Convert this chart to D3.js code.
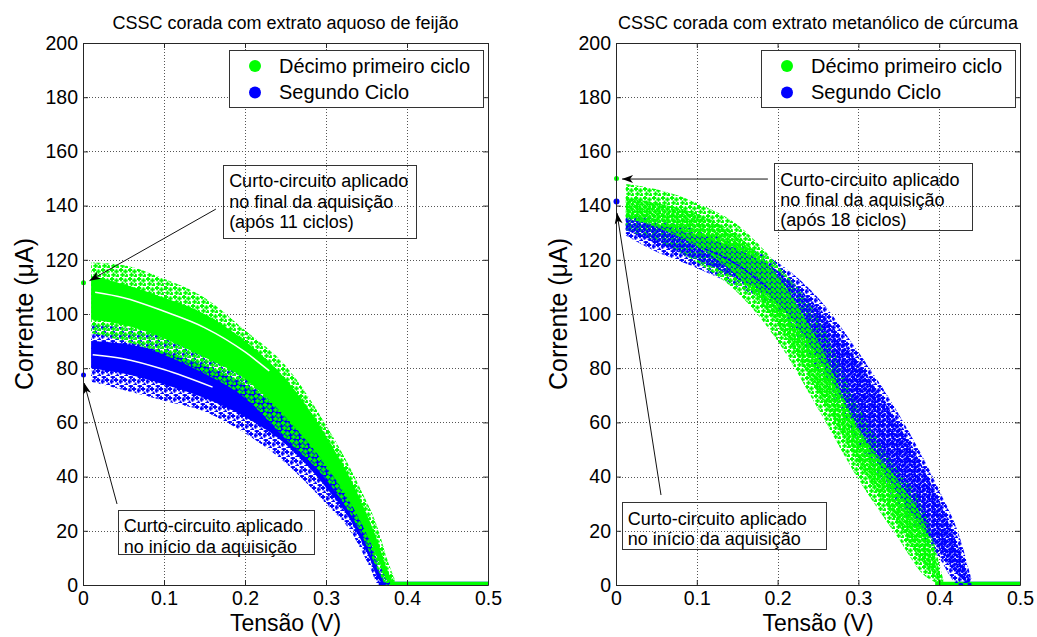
<!DOCTYPE html>
<html>
<head>
<meta charset="utf-8">
<script src="https://cdn.jsdelivr.net/npm/d3@7"></script>
<style>
  body { margin: 0; background: #fff; }
  svg { display: block; font-family: "Liberation Sans", Arial, Helvetica, sans-serif; }
</style>
</head>
<body>
<svg id="fig" width="1037" height="637"></svg>
<script>
// ---------------- data ----------------
const xTicks = [0, 0.1, 0.2, 0.3, 0.4, 0.5];
const xTickLabels = ["0", "0.1", "0.2", "0.3", "0.4", "0.5"];
const yTicks = [0, 20, 40, 60, 80, 100, 120, 140, 160, 180, 200];
const yTickLabels = ["0", "20", "40", "60", "80", "100", "120", "140", "160", "180", "200"];
const seriesNames = ["Décimo primeiro ciclo", "Segundo Ciclo"];
const panelTitles = ["CSSC corada com extrato aquoso de feijão",
                     "CSSC corada com extrato metanólico de cúrcuma"];

// Feijão – 11th cycle: voltage grid, outer envelope, dense core, white seam
const feijaoDecV      = [0.010, 0.050, 0.100, 0.150, 0.200, 0.250, 0.300, 0.340, 0.365, 0.375, 0.385];
const feijaoDecMax    = [119, 118, 113, 106, 94, 81, 59, 37, 20, 10, 2];
const feijaoDecNucMax = [114, 111, 106, 100, 90, 76, 55, 33, 15, 6, 0];
const feijaoDecNucMin = [98, 96, 91, 84, 76, 62, 44, 25, 9, 2, 0];
const feijaoDecMin    = [93, 90, 85, 78, 69, 54, 39, 21, 5, 0, 0];
const feijaoDecFendaV = [0.015, 0.050, 0.100, 0.150, 0.200, 0.230];
const feijaoDecFendaI = [108, 106, 101, 95, 86, 79];

// Feijão – 2nd cycle
const feijaoSegV      = [0.010, 0.050, 0.100, 0.150, 0.200, 0.250, 0.300, 0.330, 0.355, 0.365, 0.375];
const feijaoSegMax    = [96, 95, 92, 87, 80, 68, 50, 37, 20, 10, 2];
const feijaoSegNucMax = [90, 89, 86, 81, 74, 63, 46, 33, 16, 6, 0];
const feijaoSegNucMin = [80, 78, 74, 69, 62, 52, 36, 24, 9, 2, 0];
const feijaoSegMin    = [75, 72, 68, 64, 56, 45, 30, 20, 6, 0, 0];
const feijaoSegFendaV = [0.012, 0.050, 0.100, 0.160];
const feijaoSegFendaI = [85, 83.5, 79.5, 73];

// Cúrcuma – 11th cycle
const curcumaDecV      = [0.012, 0.050, 0.100, 0.150, 0.200, 0.250, 0.300, 0.350, 0.380, 0.405];
const curcumaDecMax    = [148, 146, 141, 133, 118, 99, 66, 42, 29, 2];
const curcumaDecNucMax = [143, 141, 137, 129, 114, 90, 58, 38, 24, 0];
const curcumaDecNucMin = [136, 132, 125, 114, 96, 71, 45, 22, 8, 0];
const curcumaDecMin    = [131, 127, 119, 108, 90, 65, 39, 17, 4, 0];

// Cúrcuma – 2nd cycle
const curcumaSegV      = [0.012, 0.050, 0.100, 0.150, 0.200, 0.250, 0.300, 0.350, 0.400, 0.425, 0.440];
const curcumaSegMax    = [137, 135, 131, 126, 119, 106, 86, 63, 35, 18, 2];
const curcumaSegNucMax = [135, 133, 129, 124, 116, 102, 82, 59, 31, 13, 0];
const curcumaSegNucMin = [131, 126, 120, 113, 104, 84, 57, 33, 13, 3, 0];
const curcumaSegMin    = [129, 123, 117, 110, 101, 79, 52, 29, 10, 0, 0];
const curcumaSegTracoV = [0.110, 0.140, 0.170, 0.190];
const curcumaSegTracoI = [124, 120, 114, 109];

// short-circuit points at V = 0 (11th cycle, 2nd cycle)
const curtoFeijaoI  = [111.5, 77.5];
const curtoCurcumaI = [150, 141.5];

// open-circuit plateau start (11th cycle, 2nd cycle)
const platoFeijaoV  = [0.380, 0.365];
const platoCurcumaV = [0.395, 0.425];

// annotations: text lines, box corners [V0, I0, V1, I1], arrow tail and tip [V, I]
const notaFinalFeijao    = ["Curto-circuito aplicado", "no final da aquisição", "(após 11 ciclos)"];
const notaInicioFeijao   = ["Curto-circuito aplicado", "no início da aquisição"];
const notaFinalCurcuma   = ["Curto-circuito aplicado", "no final da aquisição", "(após 18 ciclos)"];
const notaInicioCurcuma  = ["Curto-circuito aplicado", "no início da aquisição"];
const caixaFinalFeijao   = [0.173, 155.0, 0.411, 128.0];
const caixaInicioFeijao  = [0.043, 27.7, 0.285, 11.4];
const caixaFinalCurcuma  = [0.196, 155.7, 0.441, 131.0];
const caixaInicioCurcuma = [0.007, 30.6, 0.260, 13.3];
const setaFinalFeijao    = [[0.164, 138.7], [0.008, 112.3]];
const setaInicioFeijao   = [[0.042, 29.9], [0.0015, 74.5]];
const setaFinalCurcuma   = [[0.188, 149.8], [0.0075, 149.8]];
const setaInicioCurcuma  = [[0.0557, 33.2], [0.0012, 137.3]];

// ---------------- styles ----------------
const GREEN = "#00ff00";
const BLUE = "#0000ff";
const AXIS_COLOR = "#262626";
const GRID_COLOR = "#555";
const PLOT_TOP = 43, PLOT_H = 542;

const svg = d3.select("#fig");
const defs = svg.append("defs");

// small filled "+" marker used to texture the point clouds
const plusPath = "M-0.9,-2.2h1.8v1.3h1.3v1.8h-1.3v1.3h-1.8v-1.3h-1.3v-1.8h1.3z";
function markerPattern(id, color, tile, marks) {
  const p = defs.append("pattern")
    .attr("id", id).attr("patternUnits", "userSpaceOnUse")
    .attr("width", tile).attr("height", tile);
  marks.forEach(m => p.append("path").attr("d", plusPath)
    .attr("transform", `translate(${m[0]},${m[1]})`).attr("fill", color));
}
const sparseMarks = [[2, 2], [6.5, 3.5], [3.5, 6.8], [7.8, 8.2]];
const denseMarks = [[1.3, 1.3], [3.8, 3.6]];
markerPattern("sparse-green", GREEN, 9, sparseMarks);
markerPattern("sparse-blue", BLUE, 9, sparseMarks.map(m => [(m[0] + 4) % 9, (m[1] + 2) % 9]));
markerPattern("dense-green", GREEN, 5, denseMarks);
markerPattern("dense-blue", BLUE, 5, denseMarks.map(m => [(m[0] + 2.5) % 5, m[1]]));

function zipBand(v, hi, lo) { return v.map((d, k) => ({ v: d, hi: hi[k], lo: lo[k] })); }
function zipLine(v, i) { return v.map((d, k) => ({ v: d, i: i[k] })); }

const panels = [
  {
    x0: 83, w: 405, title: panelTitles[0], yLabelX: 33,
    layers: [
      { band: zipBand(feijaoSegV, feijaoSegMax, feijaoSegMin), fill: "url(#sparse-blue)" },
      { band: zipBand(feijaoSegV, feijaoSegNucMax, feijaoSegNucMin), fill: BLUE },
      { seam: zipLine(feijaoSegFendaV, feijaoSegFendaI) },
      { band: zipBand(feijaoDecV, feijaoDecMax, feijaoDecMin), fill: "url(#sparse-green)" },
      { band: zipBand(feijaoDecV, feijaoDecNucMax, feijaoDecNucMin), fill: GREEN },
      { seam: zipLine(feijaoDecFendaV, feijaoDecFendaI) }
    ],
    plateau: platoFeijaoV, shortI: curtoFeijaoI,
    notes: [
      { lines: notaFinalFeijao, box: caixaFinalFeijao, arrow: setaFinalFeijao },
      { lines: notaInicioFeijao, box: caixaInicioFeijao, arrow: setaInicioFeijao }
    ]
  },
  {
    x0: 616, w: 404, title: panelTitles[1], yLabelX: 567,
    layers: [
      { band: zipBand(curcumaSegV, curcumaSegMax, curcumaSegMin), fill: "url(#sparse-blue)" },
      { band: zipBand(curcumaDecV, curcumaDecMax, curcumaDecMin), fill: "url(#sparse-green)" },
      { band: zipBand(curcumaSegV, curcumaSegNucMax, curcumaSegNucMin), fill: "url(#dense-blue)" },
      { band: zipBand(curcumaDecV, curcumaDecNucMax, curcumaDecNucMin), fill: "url(#dense-green)" },
      { streak: zipLine(curcumaSegTracoV, curcumaSegTracoI), color: BLUE }
    ],
    plateau: platoCurcumaV, shortI: curtoCurcumaI,
    notes: [
      { lines: notaFinalCurcuma, box: caixaFinalCurcuma, arrow: setaFinalCurcuma },
      { lines: notaInicioCurcuma, box: caixaInicioCurcuma, arrow: setaInicioCurcuma }
    ]
  }
];

panels.forEach((P, idx) => {
  const x = d3.scaleLinear().domain([0, 0.5]).range([0, P.w]);
  const y = d3.scaleLinear().domain([0, 200]).range([PLOT_H, 0]);
  const g = svg.append("g").attr("transform", `translate(${P.x0},${PLOT_TOP})`);

  const clipId = "clip" + idx;
  defs.append("clipPath").attr("id", clipId)
    .append("rect").attr("width", P.w).attr("height", PLOT_H);

  // grid
  const grid = g.append("g").attr("stroke", GRID_COLOR).attr("stroke-width", 1)
    .attr("stroke-dasharray", "1,2");
  xTicks.slice(1, -1).forEach(t => grid.append("line")
    .attr("x1", Math.round(x(t)) + 0.5).attr("x2", Math.round(x(t)) + 0.5)
    .attr("y1", 0).attr("y2", PLOT_H));
  yTicks.slice(1, -1).forEach(t => grid.append("line")
    .attr("y1", Math.round(y(t)) + 0.5).attr("y2", Math.round(y(t)) + 0.5)
    .attr("x1", 0).attr("x2", P.w));

  // data clouds
  const data = g.append("g").attr("clip-path", `url(#${clipId})`);
  const area = d3.area().x(d => x(d.v)).y0(d => y(d.lo)).y1(d => y(d.hi))
    .curve(d3.curveMonotoneX);
  const line = d3.line().x(d => x(d.v)).y(d => y(d.i)).curve(d3.curveMonotoneX);

  // open-circuit plateau at zero current (2nd cycle under, 11th on top)
  [1, 0].forEach(s => data.append("line")
    .attr("x1", x(P.plateau[s])).attr("x2", x(0.5))
    .attr("y1", y(0) - 1.5).attr("y2", y(0) - 1.5)
    .attr("stroke", s === 0 ? GREEN : BLUE).attr("stroke-width", 3.5));

  P.layers.forEach(L => {
    if (L.band) {
      data.append("path").datum(L.band).attr("d", area).attr("fill", L.fill);
    } else if (L.seam) {
      data.append("path").datum(L.seam).attr("d", line)
        .attr("fill", "none").attr("stroke", "#fff").attr("stroke-width", 1.5);
    } else if (L.streak) {
      data.append("path").datum(L.streak).attr("d", line)
        .attr("fill", "none").attr("stroke", L.color).attr("stroke-width", 1.6)
        .attr("stroke-dasharray", "4,1");
    }
  });

  // short-circuit points
  P.shortI.forEach((iv, s) => g.append("circle")
    .attr("cx", x(0) + 0.5).attr("cy", y(iv)).attr("r", s === 1 && idx === 1 ? 3 : 2.5)
    .attr("fill", s === 0 ? GREEN : BLUE));

  // axes: inward ticks on all four sides
  const fontTick = "19.5px";
  const axB = g.append("g").attr("transform", `translate(0,${PLOT_H})`)
    .call(d3.axisBottom(x).tickValues(xTicks).tickFormat((d, k) => xTickLabels[k])
      .tickSizeInner(-5).tickSizeOuter(0).tickPadding(6));
  const axL = g.append("g")
    .call(d3.axisLeft(y).tickValues(yTicks).tickFormat((d, k) => yTickLabels[k])
      .tickSizeInner(-5).tickSizeOuter(0).tickPadding(5));
  const axT = g.append("g")
    .call(d3.axisTop(x).tickValues(xTicks).tickFormat("").tickSizeInner(-5).tickSizeOuter(0));
  const axR = g.append("g").attr("transform", `translate(${P.w},0)`)
    .call(d3.axisRight(y).tickValues(yTicks).tickFormat("").tickSizeInner(-5).tickSizeOuter(0));
  [axB, axL, axT, axR].forEach(a => {
    a.selectAll("path, line").attr("stroke", AXIS_COLOR);
    a.selectAll("text").attr("fill", "#000").style("font-size", fontTick)
      .style("font-family", '"Liberation Sans", Arial, sans-serif');
  });

  // legend
  const lg = g.append("g").attr("transform", `translate(${P.w - 259},7)`);
  lg.append("rect").attr("x", 0.5).attr("y", 0.5).attr("width", 254).attr("height", 57)
    .attr("fill", "#fff").attr("stroke", "#333");
  [GREEN, BLUE].forEach((c, k) => {
    lg.append("circle").attr("cx", 26).attr("cy", 16 + k * 26.5).attr("r", 6).attr("fill", c);
    lg.append("text").attr("x", 50).attr("y", 22.5 + k * 26.5)
      .style("font-size", "20px").text(seriesNames[k]);
  });

  // title and axis labels
  svg.append("text").attr("x", P.x0 + P.w / 2).attr("y", 29).attr("text-anchor", "middle")
    .style("font-size", "18px").text(P.title);
  svg.append("text").attr("x", P.x0 + P.w / 2).attr("y", 630.5).attr("text-anchor", "middle")
    .style("font-size", "23px").text("Tensão (V)");
  svg.append("text")
    .attr("transform", `translate(${P.yLabelX},${PLOT_TOP + PLOT_H / 2}) rotate(-90)`)
    .attr("text-anchor", "middle").style("font-size", "25px").text("Corrente (μA)");

  // annotations with arrows
  P.notes.forEach(N => {
    const bx0 = x(N.box[0]), by0 = y(N.box[1]), bx1 = x(N.box[2]), by1 = y(N.box[3]);
    g.append("rect").attr("x", Math.round(bx0) + 0.5).attr("y", Math.round(by0) + 0.5)
      .attr("width", Math.round(bx1 - bx0)).attr("height", Math.round(by1 - by0))
      .attr("fill", "none").attr("stroke", "#333");
    N.lines.forEach((t, k) => g.append("text")
      .attr("x", bx0 + 6).attr("y", by0 + 22.5 + k * 20.3)
      .style("font-size", "18px").text(t));
    const [tail, tip] = N.arrow;
    const tx = x(tail[0]), ty = y(tail[1]), px = x(tip[0]), py = y(tip[1]);
    const ang = Math.atan2(py - ty, px - tx) * 180 / Math.PI;
    g.append("line").attr("x1", tx).attr("y1", ty).attr("x2", px).attr("y2", py)
      .attr("stroke", "#111").attr("stroke-width", 1);
    g.append("path").attr("d", "M0,0L-11,-4L-8,0L-11,4Z")
      .attr("transform", `translate(${px},${py}) rotate(${ang})`).attr("fill", "#000");
  });
});
</script>
</body>
</html>
